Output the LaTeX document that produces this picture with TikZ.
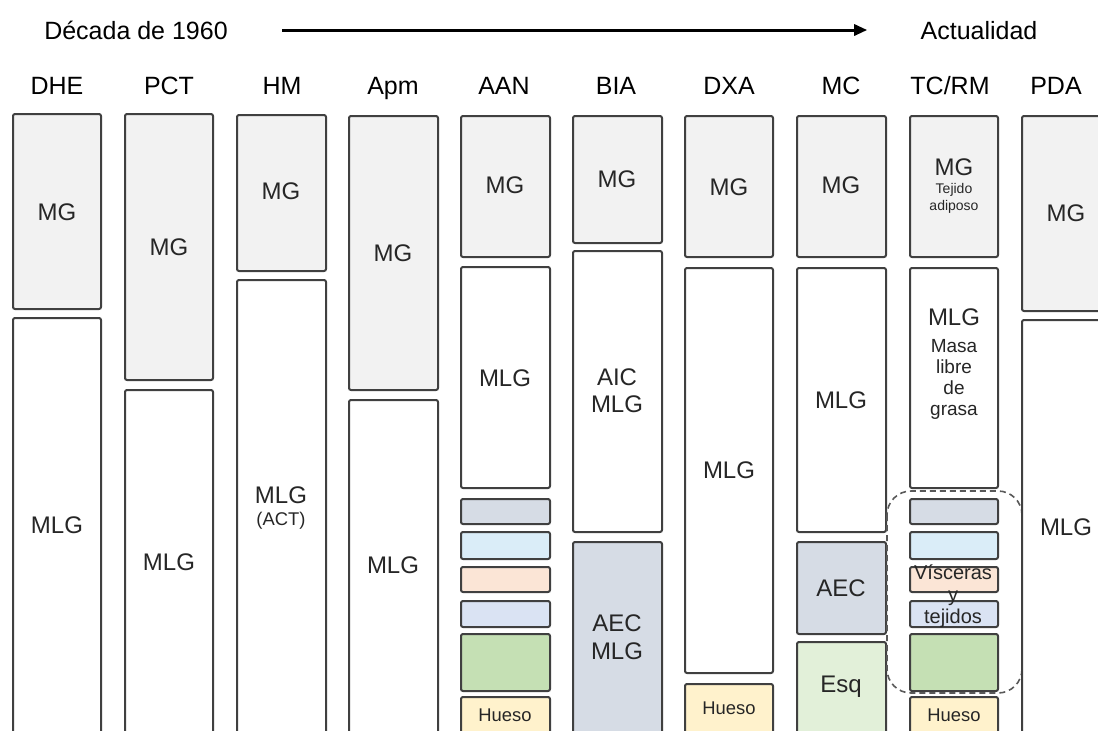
\documentclass[tikz,border=0pt]{standalone}
\usepackage{fontspec}
\setmainfont{Liberation Sans}
\usetikzlibrary{arrows.meta}

\definecolor{tinta}{HTML}{262626}
\definecolor{borde}{HTML}{404040}
\definecolor{grisMG}{HTML}{F2F2F2}
\definecolor{azulgris}{HTML}{D6DCE5}
\definecolor{celeste}{HTML}{DAEDF8}
\definecolor{salmon}{HTML}{FBE5D6}
\definecolor{azulclaro}{HTML}{DAE3F3}
\definecolor{verde}{HTML}{C5E0B4}
\definecolor{verdeclaro}{HTML}{E2F0D9}
\definecolor{hueso}{HTML}{FFF2CC}

\tikzset{
  capa/.style={draw=borde, line width=1pt, rounded corners=1pt},
  mg/.style={capa, fill=grisMG},
  mlg/.style={capa, fill=white},
  etiq/.style={font=\fontsize{12}{14}\selectfont, text=tinta, inner sep=0pt,
    text height=8.6pt, text depth=0pt},
  titulo/.style={etiq, font=\fontsize{12.5}{15}\selectfont, text=black, text height=9pt},
  chica/.style={etiq, font=\fontsize{9.2}{11}\selectfont, text height=6.6pt},
  mini/.style={etiq, font=\fontsize{7}{8}\selectfont, text height=5pt},
  varias/.style={font=\fontsize{12}{13.5}\selectfont, text=tinta, inner sep=0pt, align=center},
  flecha/.style={line width=1.5pt, -{Triangle[length=6.5pt,width=5.5pt]},
    shorten <=27pt, shorten >=26.5pt},
  grupo/.style={draw=black!65, line width=0.8pt, dash pattern=on 3pt off 2pt,
    rounded corners=12pt}
}

\begin{document}
\begin{tikzpicture}[x=0.5pt, y=-0.5pt]
  \useasboundingbox (0,0) rectangle (1098,730);
  \clip (0,0) rectangle (1098,730);

  % linea de tiempo
  \node[titulo] (dec) at (136,30) {Década de 1960};
  \node[titulo] (act) at (979,30) {Actualidad};
  \draw[flecha] (dec.east) -- (act.west);

  % tecnicas
  \node[titulo] (t-dhe) at (57,85) {DHE};
  \node[titulo] (t-pct) at (169,85) {PCT};
  \node[titulo] (t-hm) at (282,85) {HM};
  \node[titulo] (t-apm) at (393,85) {Apm};
  \node[titulo] (t-aan) at (504,85) {AAN};
  \node[titulo] (t-bia) at (616,85) {BIA};
  \node[titulo] (t-dxa) at (729,85) {DXA};
  \node[titulo] (t-mc) at (841,85) {MC};
  \node[titulo] (t-tcrm) at (950,85) {TC/RM};
  \node[titulo] (t-pda) at (1056,85) {PDA};

  % DHE
  \draw[mg] (13,114) rectangle (101,309);
  \node[etiq] (dhe-mg) at (57,212) {MG};
  \draw[mlg] (13,318) rectangle (101,745);
  \node[etiq] (dhe-mlg) at (57,525) {MLG};

  % PCT
  \draw[mg] (125,114) rectangle (213,380);
  \node[etiq] (pct-mg) at (169,247) {MG};
  \draw[mlg] (125,390) rectangle (213,745);
  \node[etiq] (pct-mlg) at (169,562) {MLG};

  % HM
  \draw[mg] (237,115) rectangle (326,271);
  \node[etiq] (hm-mg) at (281,191) {MG};
  \draw[mlg] (237,280) rectangle (326,745);
  \node[etiq] (hm-mlg) at (281,495) {MLG};
  \node[chica] (hm-act) at (281,519) {(ACT)};

  % Apm
  \draw[mg] (349,116) rectangle (438,390);
  \node[etiq] (apm-mg) at (393,253) {MG};
  \draw[mlg] (349,400) rectangle (438,745);
  \node[etiq] (apm-mlg) at (393,565) {MLG};

  % AAN
  \draw[mg] (461,116) rectangle (550,257);
  \node[etiq] (aan-mg) at (505,185) {MG};
  \draw[mlg] (461,267) rectangle (550,488);
  \node[etiq] (aan-mlg) at (505,378) {MLG};
  \draw[capa, fill=azulgris] (461,499) rectangle (550,524);
  \draw[capa, fill=celeste] (461,532) rectangle (550,559);
  \draw[capa, fill=salmon] (461,567) rectangle (550,592);
  \draw[capa, fill=azulclaro] (461,601) rectangle (550,627);
  \draw[capa, fill=verde] (461,634) rectangle (550,691);
  \draw[capa, fill=hueso] (461,697) rectangle (550,745);
  \node[chica] (aan-hueso) at (505,715) {Hueso};

  % BIA
  \draw[mg] (573,116) rectangle (662,243);
  \node[etiq] (bia-mg) at (617,179) {MG};
  \draw[mlg] (573,251) rectangle (662,532);
  \node[varias] (bia-aic) at (617,391) {AIC\\MLG};
  \draw[capa, fill=azulgris] (573,542) rectangle (662,745);
  \node[varias, font=\fontsize{12}{14}\selectfont] (bia-aec) at (617,637) {AEC\\MLG};

  % DXA
  \draw[mg] (685,116) rectangle (773,257);
  \node[etiq] (dxa-mg) at (729,187) {MG};
  \draw[mlg] (685,268) rectangle (773,673);
  \node[etiq] (dxa-mlg) at (729,470) {MLG};
  \draw[capa, fill=hueso] (685,684) rectangle (773,745);
  \node[chica] (dxa-hueso) at (729,708) {Hueso};

  % MC
  \draw[mg] (797,116) rectangle (886,257);
  \node[etiq] (mc-mg) at (841,185) {MG};
  \draw[mlg] (797,268) rectangle (886,532);
  \node[etiq] (mc-mlg) at (841,400) {MLG};
  \draw[capa, fill=azulgris] (797,542) rectangle (886,634);
  \node[etiq] (mc-aec) at (841,588) {AEC};
  \draw[capa, fill=verdeclaro] (797,642) rectangle (886,745);
  \node[etiq] (mc-esq) at (841,684) {Esq};

  % TC/RM
  \draw[mg] (910,116) rectangle (998,257);
  \node[etiq] (tc-mg) at (954,167) {MG};
  \node[mini] (tc-tej) at (954,188) {Tejido};
  \node[mini] (tc-adi) at (954,205) {adiposo};
  \draw[mlg] (910,268) rectangle (998,488);
  \node[etiq] (tc-mlg) at (954,317) {MLG};
  \node[varias, font=\fontsize{9.5}{10.5}\selectfont] (tc-masa) at (954,379) {Masa\\libre\\de\\grasa};
  \draw[capa, fill=azulgris] (910,499) rectangle (998,524);
  \draw[capa, fill=celeste] (910,532) rectangle (998,559);
  \draw[capa, fill=salmon] (910,567) rectangle (998,592);
  \draw[capa, fill=azulclaro] (910,601) rectangle (998,627);
  \draw[capa, fill=verde] (910,634) rectangle (998,691);
  \draw[capa, fill=hueso] (910,697) rectangle (998,745);
  \node[chica] (tc-hueso) at (954,715) {Hueso};
  \draw[grupo] (887,491) rectangle (1022,693);
  \node[varias, font=\fontsize{10}{11}\selectfont] (tc-visc) at (953,596) {Vísceras\\y\\tejidos};

  % PDA
  \draw[mg] (1022,116) rectangle (1112,311);
  \node[etiq] (pda-mg) at (1066,213) {MG};
  \draw[mlg] (1022,320) rectangle (1112,745);
  \node[etiq] (pda-mlg) at (1066,527) {MLG};
\end{tikzpicture}
\end{document}
